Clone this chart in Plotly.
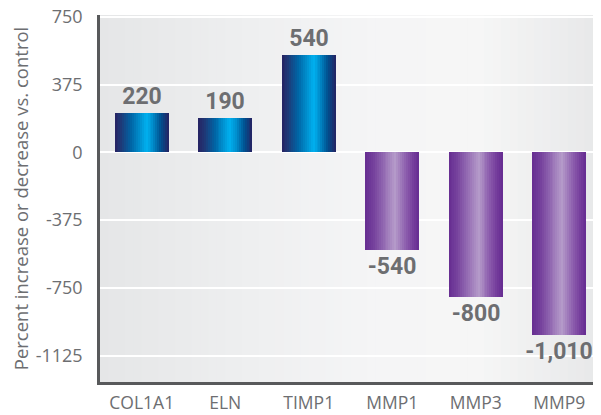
import plotly.graph_objects as go

genes = ["COL1A1", "ELN", "TIMP1", "MMP1", "MMP3", "MMP9"]
values = [220, 190, 540, -540, -800, -1010]
labels = ["220", "190", "540", "-540", "-800", "-1,010"]
tick_vals = [750, 375, 0, -375, -750, -1125]
tick_text = ["750", "375", "0", "-375", "-750", "-1125"]

BAR_W = 0.65
N = 28

blue_stops = [(0.0, "#262262"), (0.12, "#1f3876"), (0.3, "#0064a4"), (0.45, "#008ccb"),
              (0.58, "#00b0ef"), (0.7, "#0090cf"), (0.85, "#00508f"), (1.0, "#262262")]
purple_stops = [(0.0, "#662d91"), (0.15, "#74409c"), (0.35, "#956cb3"), (0.55, "#b59bca"),
                (0.75, "#8c5dad"), (0.9, "#72399a"), (1.0, "#662d91")]


def hex2rgb(h):
    h = h.lstrip("#")
    return [int(h[i:i + 2], 16) for i in (0, 2, 4)]


def interp(stops, t):
    for (t0, c0), (t1, c1) in zip(stops[:-1], stops[1:]):
        if t0 <= t <= t1:
            a = (t - t0) / (t1 - t0) if t1 > t0 else 0
            r0, r1 = hex2rgb(c0), hex2rgb(c1)
            return "rgb(%d,%d,%d)" % tuple(round(r0[k] + (r1[k] - r0[k]) * a) for k in range(3))
    return stops[-1][1]


fig = go.Figure()
sw = BAR_W / N
for i in range(N):
    t = (i + 0.5) / N
    cols = [interp(blue_stops, t) if v > 0 else interp(purple_stops, t) for v in values]
    fig.add_trace(go.Bar(
        x=genes, y=values, width=sw * 1.04, offset=-BAR_W / 2 + i * sw,
        marker=dict(color=cols, line=dict(width=0)), showlegend=False, hoverinfo="skip"))

fig.add_trace(go.Bar(
    x=genes, y=values, width=BAR_W, text=labels, textposition="outside",
    constraintext="none",
    textfont=dict(family="Roboto, sans-serif", size=23, color="#6d6e71", weight="bold"),
    marker=dict(color="rgba(0,0,0,0)", line=dict(width=0)),
    cliponaxis=False, showlegend=False, hoverinfo="skip"))

# background gradient stripes
bg_stops = [(0.0, "#e5e6e7"), (0.3, "#eeeff0"), (0.55, "#f5f5f6"), (0.75, "#f6f6f6"), (1.0, "#e7e8e9")]
M = 60
shapes = []
for j in range(M):
    t = (j + 0.5) / M
    shapes.append(dict(type="rect", xref="paper", yref="paper", x0=j / M, x1=(j + 1) / M + 0.002,
                       y0=0, y1=1, fillcolor=interp(bg_stops, t), line=dict(width=0), layer="below"))

font_main = "Open Sans, Noto Sans, sans-serif"
fig.update_layout(
    width=593, height=407,
    margin=dict(l=92, r=0, t=7, b=33),
    barmode="overlay", bargap=0,
    paper_bgcolor="white", plot_bgcolor="#eeeeef",
    shapes=shapes,
    font=dict(family=font_main, color="#6d6e71", size=18),
    xaxis=dict(range=[-0.5, 5.5], showgrid=False, showline=True, linecolor="#58595b", linewidth=2.5,
               ticks="", tickfont=dict(size=17.5, color="#6d6e71"), ticklabelstandoff=3, zeroline=False,
               automargin=False),
    yaxis=dict(range=[-1271, 761], tickvals=tick_vals, ticktext=tick_text, showgrid=True,
               gridcolor="white", gridwidth=2, zeroline=False, showline=True, linecolor="#58595b",
               linewidth=2.5, ticks="", tickfont=dict(size=18, color="#6d6e71"), ticklabelstandoff=11,
               ticklabeloverflow="allow", automargin=False,
               title=dict(text="Percent increase or decrease vs. control",
                          font=dict(size=18.5, color="#6d6e71"), standoff=11)),
)

fig.write_html("out.html")
